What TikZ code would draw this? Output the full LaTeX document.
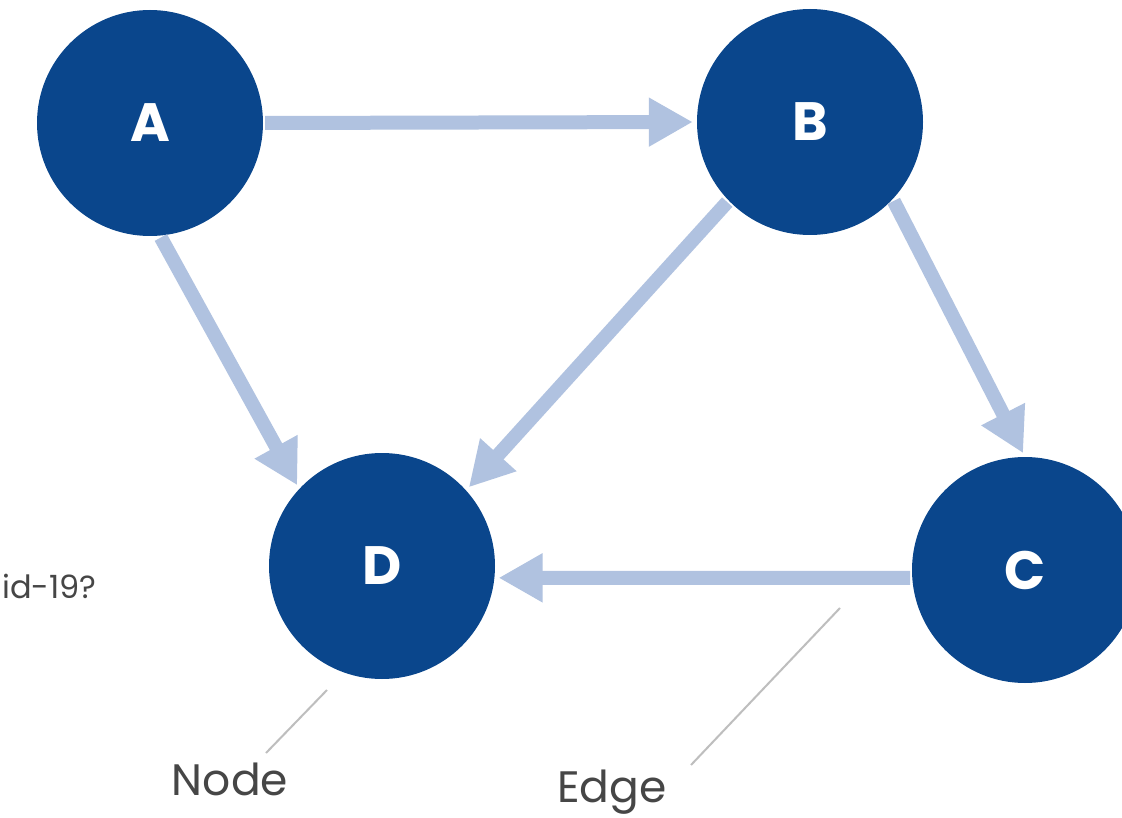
\documentclass[tikz,border=0pt]{standalone}
\usepackage{fontspec}
\setmainfont{Poppins}
\usetikzlibrary{arrows.meta}
\definecolor{nodeblue}{RGB}{10,70,140}
\definecolor{edgeblue}{RGB}{176,194,224}
\definecolor{labelgray}{RGB}{70,70,70}
\definecolor{leadgray}{RGB}{190,190,190}
\tikzset{
  vertex/.style={circle, fill=nodeblue, minimum size=226pt, inner sep=0pt,
    text=white, font=\fontsize{54}{58}\selectfont\bfseries},
  edgearrow/.style={draw=edgeblue, line width=14pt,
    -{Triangle[length=44pt,width=46pt]}, shorten >=4pt, shorten <=2pt},
  leader/.style={draw=leadgray, line width=2pt},
  labeltext/.style={text=labelgray, font=\fontsize{44}{48}\selectfont, inner sep=0pt}
}
\begin{document}
\begin{tikzpicture}[x=1pt,y=-1pt]
\useasboundingbox (0,0) rectangle (1122,818);
\clip (0,0) rectangle (1122,818);
\fill[white] (0,0) rectangle (1122,818);
\node[vertex] (A) at (150,123) {A};
\node[vertex] (B) at (810,122) {B};
\node[vertex] (D) at (382,566) {D};
\node[vertex] (C) at (1025,570) {C};
\draw[edgearrow] (A.0) -- (B.180);
\draw[edgearrow] (A.-85) -- (D.137);
\draw[edgearrow] (B.224) -- (D.42);
\draw[edgearrow] (B.-43) -- (C.90);
\draw[edgearrow] (C.184) -- (D.-6);
\node[labeltext, anchor=base west] (Q) at (2,598) {\fontsize{32}{36}\selectfont id-19?};
\node[labeltext, anchor=base] (N) at (230,795) {Node};
\node[labeltext, anchor=base] (E) at (612,802) {Edge};
\coordinate (nl) at (327,690);
\coordinate (nl2) at (266,753);
\coordinate (el) at (840,608);
\coordinate (el2) at (691,765);
\draw[leader] (nl) -- (nl2);
\draw[leader] (el) -- (el2);
\end{tikzpicture}
\end{document}
